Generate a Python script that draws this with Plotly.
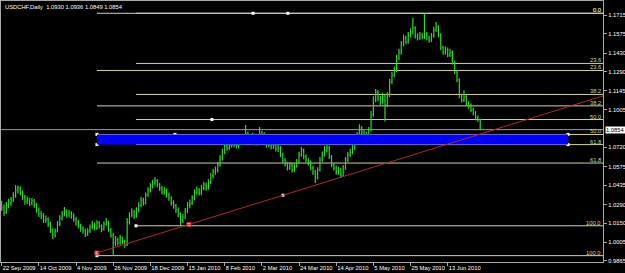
import plotly.graph_objects as go

# ---------------- data ----------------
SYMBOL_TITLE = "USDCHF,Daily\u00a0\u00a01.0930 1.0936 1.0849 1.0854"

OPEN = [
    1.0290, 1.0265, 1.0232, 1.0285, 1.0300, 1.0325, 1.0355, 1.0398, 1.0415, 1.0378, 1.0346, 1.0310, 1.0322, 1.0302, 1.0318, 1.0287,
    1.0250, 1.0219, 1.0204, 1.0173, 1.0181, 1.0143, 1.0098, 1.0060, 1.0091, 1.0143, 1.0188, 1.0219, 1.0241, 1.0211, 1.0226, 1.0204,
    1.0181, 1.0158, 1.0128, 1.0106, 1.0091, 1.0068, 1.0091, 1.0121, 1.0143, 1.0113, 1.0151, 1.0128, 1.0106, 1.0143, 1.0158, 1.0098,
    1.0060, 1.0000, 1.0023, 1.0000, 1.0038, 1.0008, 0.9985, 1.0158, 1.0211, 1.0234, 1.0204, 1.0249, 1.0286, 1.0324, 1.0301, 1.0362,
    1.0399, 1.0429, 1.0452, 1.0467, 1.0437, 1.0414, 1.0384, 1.0399, 1.0362, 1.0339, 1.0301, 1.0279, 1.0249, 1.0219, 1.0173, 1.0196,
    1.0241, 1.0286, 1.0301, 1.0339, 1.0384, 1.0399, 1.0377, 1.0414, 1.0437, 1.0414, 1.0460, 1.0505, 1.0535, 1.0550, 1.0588, 1.0640,
    1.0685, 1.0731, 1.0716, 1.0761, 1.0738, 1.0768, 1.0731, 1.0753, 1.0783, 1.0761, 1.0821, 1.0791, 1.0776, 1.0806, 1.0753, 1.0776,
    1.0821, 1.0776, 1.0798, 1.0738, 1.0753, 1.0723, 1.0738, 1.0708, 1.0716, 1.0663, 1.0625, 1.0595, 1.0565, 1.0588, 1.0550, 1.0580,
    1.0610, 1.0663, 1.0700, 1.0648, 1.0625, 1.0603, 1.0565, 1.0535, 1.0490, 1.0550, 1.0625, 1.0663, 1.0700, 1.0716, 1.0648, 1.0588,
    1.0565, 1.0535, 1.0550, 1.0512, 1.0565, 1.0625, 1.0663, 1.0685, 1.0716, 1.0776, 1.0813, 1.0866, 1.0836, 1.0791, 1.0813, 1.0851,
    1.0964, 1.1077, 1.1137, 1.1092, 1.1062, 1.1107, 1.1039, 1.1115, 1.1213, 1.1265, 1.1303, 1.1393, 1.1438, 1.1499, 1.1544, 1.1514,
    1.1566, 1.1589, 1.1619, 1.1559, 1.1544, 1.1566, 1.1551, 1.1574, 1.1544, 1.1529, 1.1559, 1.1604, 1.1627, 1.1566, 1.1469, 1.1438,
    1.1454, 1.1416, 1.1438, 1.1363, 1.1288, 1.1228, 1.1107, 1.1077, 1.1100, 1.1047, 1.1032, 1.1002, 1.0979, 1.0941, 1.0930,
]
HIGH = [
    1.0318, 1.0290, 1.0309, 1.0334, 1.0347, 1.0382, 1.0437, 1.0431, 1.0428, 1.0395, 1.0362, 1.0351, 1.0340, 1.0339, 1.0331, 1.0301,
    1.0268, 1.0243, 1.0226, 1.0207, 1.0195, 1.0158, 1.0112, 1.0110, 1.0166, 1.0209, 1.0242, 1.0271, 1.0255, 1.0249, 1.0240, 1.0225,
    1.0197, 1.0174, 1.0146, 1.0125, 1.0108, 1.0112, 1.0140, 1.0168, 1.0155, 1.0172, 1.0166, 1.0140, 1.0163, 1.0188, 1.0170, 1.0113,
    1.0078, 1.0052, 1.0041, 1.0060, 1.0049, 1.0025, 1.0188, 1.0232, 1.0262, 1.0251, 1.0270, 1.0307, 1.0349, 1.0341, 1.0381, 1.0420,
    1.0451, 1.0476, 1.0497, 1.0483, 1.0452, 1.0430, 1.0421, 1.0412, 1.0380, 1.0352, 1.0322, 1.0294, 1.0268, 1.0232, 1.0218, 1.0263,
    1.0309, 1.0328, 1.0360, 1.0405, 1.0428, 1.0415, 1.0437, 1.0462, 1.0455, 1.0481, 1.0528, 1.0559, 1.0576, 1.0610, 1.0663, 1.0709,
    1.0756, 1.0762, 1.0784, 1.0779, 1.0792, 1.0785, 1.0774, 1.0810, 1.0801, 1.0889, 1.0840, 1.0811, 1.0831, 1.0822, 1.0797, 1.0874,
    1.0846, 1.0834, 1.0811, 1.0779, 1.0770, 1.0762, 1.0752, 1.0737, 1.0731, 1.0680, 1.0641, 1.0612, 1.0611, 1.0603, 1.0602, 1.0633,
    1.0688, 1.0724, 1.0712, 1.0666, 1.0641, 1.0619, 1.0580, 1.0551, 1.0571, 1.0648, 1.0689, 1.0731, 1.0768, 1.0730, 1.0662, 1.0605,
    1.0583, 1.0574, 1.0566, 1.0588, 1.0647, 1.0687, 1.0709, 1.0741, 1.0800, 1.0836, 1.0895, 1.0882, 1.0850, 1.0838, 1.0874, 1.0995,
    1.1105, 1.1160, 1.1150, 1.1108, 1.1131, 1.1122, 1.1138, 1.1236, 1.1290, 1.1330, 1.1418, 1.1462, 1.1522, 1.1571, 1.1560, 1.1590,
    1.1615, 1.1694, 1.1633, 1.1578, 1.1589, 1.1584, 1.1730, 1.1590, 1.1561, 1.1582, 1.1628, 1.1664, 1.1640, 1.1580, 1.1488, 1.1480,
    1.1472, 1.1462, 1.1451, 1.1375, 1.1302, 1.1240, 1.1125, 1.1150, 1.1118, 1.1068, 1.1050, 1.1020, 1.0995, 1.0960, 1.0936,
]
LOW = [
    1.0241, 1.0205, 1.0219, 1.0262, 1.0281, 1.0309, 1.0340, 1.0372, 1.0360, 1.0322, 1.0288, 1.0293, 1.0279, 1.0285, 1.0266, 1.0228,
    1.0196, 1.0181, 1.0150, 1.0152, 1.0120, 1.0076, 1.0030, 1.0041, 1.0080, 1.0128, 1.0170, 1.0202, 1.0190, 1.0193, 1.0182, 1.0160,
    1.0131, 1.0109, 1.0084, 1.0070, 1.0045, 1.0052, 1.0075, 1.0104, 1.0095, 1.0098, 1.0109, 1.0082, 1.0094, 1.0130, 1.0085, 1.0040,
    0.9905, 0.9978, 0.9981, 0.9985, 0.9990, 0.9964, 0.9978, 1.0140, 1.0195, 1.0183, 1.0190, 1.0231, 1.0270, 1.0282, 1.0290, 1.0348,
    1.0380, 1.0410, 1.0433, 1.0420, 1.0392, 1.0366, 1.0363, 1.0341, 1.0318, 1.0280, 1.0258, 1.0226, 1.0195, 1.0130, 1.0150, 1.0180,
    1.0225, 1.0262, 1.0287, 1.0322, 1.0366, 1.0357, 1.0360, 1.0398, 1.0394, 1.0402, 1.0445, 1.0488, 1.0515, 1.0531, 1.0574, 1.0622,
    1.0668, 1.0694, 1.0701, 1.0717, 1.0722, 1.0712, 1.0711, 1.0738, 1.0744, 1.0750, 1.0772, 1.0754, 1.0760, 1.0737, 1.0735, 1.0762,
    1.0758, 1.0760, 1.0718, 1.0719, 1.0705, 1.0708, 1.0690, 1.0686, 1.0645, 1.0604, 1.0577, 1.0546, 1.0549, 1.0530, 1.0534, 1.0566,
    1.0598, 1.0650, 1.0630, 1.0606, 1.0584, 1.0548, 1.0512, 1.0452, 1.0478, 1.0538, 1.0610, 1.0651, 1.0684, 1.0632, 1.0570, 1.0544,
    1.0515, 1.0514, 1.0490, 1.0499, 1.0552, 1.0611, 1.0645, 1.0668, 1.0702, 1.0760, 1.0798, 1.0818, 1.0772, 1.0776, 1.0798, 1.0840,
    1.0950, 1.1060, 1.1070, 1.1040, 1.1045, 1.0915, 1.1025, 1.1100, 1.1196, 1.1248, 1.1288, 1.1376, 1.1420, 1.1482, 1.1495, 1.1500,
    1.1548, 1.1572, 1.1540, 1.1525, 1.1530, 1.1533, 1.1536, 1.1526, 1.1508, 1.1514, 1.1545, 1.1590, 1.1550, 1.1452, 1.1418, 1.1420,
    1.1398, 1.1400, 1.1345, 1.1270, 1.1210, 1.1090, 1.1058, 1.1062, 1.1030, 1.1012, 1.0984, 1.0960, 1.0925, 1.0912, 1.0849,
]
CLOSE = [
    1.0265, 1.0232, 1.0285, 1.0300, 1.0325, 1.0355, 1.0398, 1.0415, 1.0378, 1.0346, 1.0310, 1.0322, 1.0302, 1.0318, 1.0287, 1.0250,
    1.0219, 1.0204, 1.0173, 1.0181, 1.0143, 1.0098, 1.0060, 1.0091, 1.0143, 1.0188, 1.0219, 1.0241, 1.0211, 1.0226, 1.0204, 1.0181,
    1.0158, 1.0128, 1.0106, 1.0091, 1.0068, 1.0091, 1.0121, 1.0143, 1.0113, 1.0151, 1.0128, 1.0106, 1.0143, 1.0158, 1.0098, 1.0060,
    1.0000, 1.0023, 1.0000, 1.0038, 1.0008, 0.9985, 1.0158, 1.0211, 1.0234, 1.0204, 1.0249, 1.0286, 1.0324, 1.0301, 1.0362, 1.0399,
    1.0429, 1.0452, 1.0467, 1.0437, 1.0414, 1.0384, 1.0399, 1.0362, 1.0339, 1.0301, 1.0279, 1.0249, 1.0219, 1.0173, 1.0196, 1.0241,
    1.0286, 1.0301, 1.0339, 1.0384, 1.0399, 1.0377, 1.0414, 1.0437, 1.0414, 1.0460, 1.0505, 1.0535, 1.0550, 1.0588, 1.0640, 1.0685,
    1.0731, 1.0716, 1.0761, 1.0738, 1.0768, 1.0731, 1.0753, 1.0783, 1.0761, 1.0821, 1.0791, 1.0776, 1.0806, 1.0753, 1.0776, 1.0821,
    1.0776, 1.0798, 1.0738, 1.0753, 1.0723, 1.0738, 1.0708, 1.0716, 1.0663, 1.0625, 1.0595, 1.0565, 1.0588, 1.0550, 1.0580, 1.0610,
    1.0663, 1.0700, 1.0648, 1.0625, 1.0603, 1.0565, 1.0535, 1.0490, 1.0550, 1.0625, 1.0663, 1.0700, 1.0716, 1.0648, 1.0588, 1.0565,
    1.0535, 1.0550, 1.0512, 1.0565, 1.0625, 1.0663, 1.0685, 1.0716, 1.0776, 1.0813, 1.0866, 1.0836, 1.0791, 1.0813, 1.0851, 1.0964,
    1.1077, 1.1137, 1.1092, 1.1062, 1.1107, 1.1039, 1.1115, 1.1213, 1.1265, 1.1303, 1.1393, 1.1438, 1.1499, 1.1544, 1.1514, 1.1566,
    1.1589, 1.1619, 1.1559, 1.1544, 1.1566, 1.1551, 1.1574, 1.1544, 1.1529, 1.1559, 1.1604, 1.1627, 1.1566, 1.1469, 1.1438, 1.1454,
    1.1416, 1.1438, 1.1363, 1.1288, 1.1228, 1.1107, 1.1077, 1.1100, 1.1047, 1.1032, 1.1002, 1.0979, 1.0941, 1.0930, 1.0854,
]
BAR_INDEX = list(range(len(CLOSE)))

# date labels on the time axis (one every 16 bars)
DATE_TICK_BARS = [0, 16, 32, 48, 64, 80, 96, 112, 128, 144, 160, 176, 192]
DATE_TICK_LABELS = ["22 Sep 2009", "14 Oct 2009", "4 Nov 2009", "26 Nov 2009", "18 Dec 2009",
                    "15 Jan 2010", "8 Feb 2010", "2 Mar 2010", "24 Mar 2010", "14 Apr 2010",
                    "5 May 2010", "25 May 2010", "13 Jun 2010"]

# price scale labels
PRICE_TICKS = [1.1715, 1.1575, 1.1430, 1.1290, 1.1145, 1.1005, 1.0720, 1.0575,
               1.0435, 1.0290, 1.0150, 1.0005, 0.9865]
LAST_PRICE = 1.0854

# Fibonacci retracement objects: (start bar, 0% price, 100% price)
FIB_RATIOS = [0.0, 23.6, 38.2, 50.0, 61.8, 100.0]
FIB_LABELS = ["0.0", "23.6", "38.2", "50.0", "61.8", "100.0"]
FIB1 = dict(start=41.0, top=1.1730, bottom=0.9905)
FIB2 = dict(start=57.8, top=1.1730, bottom=1.0130)

# rectangle object
RECT = dict(x0=41.0, x1=243.8, y0=1.0741, y1=1.0818)

# trend line object anchors (ray to the right)
TREND_X = [41.0, 80.6]
TREND_Y = [0.9925, 1.0140]

# selection anchor dots
WHITE_DOT_X = [41.0, 41.0, 243.8, 243.8, 142.4, 108.2, 123.2, 57.8, 90.5, 74.6, 41.0, 121.1]
WHITE_DOT_Y = [1.0818, 1.0741, 1.0818, 1.0741, 1.0780, 1.1730, 1.1730, 1.0130, 1.0930, 1.0818, 0.9905, 1.0360]

# ---------------- layout constants ----------------
XMIN, XMAX = -0.3, 258.85
YMIN, YMAX = 0.98571, 1.18225
FONT = "Liberation Sans, Arial, sans-serif"
FS = 5.8
FIB_COLOR = "#d2d2a0"
FRAME = "#a8a8a8"
BAR_COLOR = "#36d436"

fig = go.Figure()
fig.add_trace(go.Ohlc(
    x=BAR_INDEX, open=OPEN, high=HIGH, low=LOW, close=CLOSE,
    increasing=dict(line=dict(color=BAR_COLOR, width=1.2)),
    decreasing=dict(line=dict(color=BAR_COLOR, width=1.2)),
    tickwidth=0.35, hoverinfo="skip", showlegend=False,
))

shapes = []
annotations = []

# current price line
shapes.append(dict(type="line", xref="paper", x0=0, x1=1, yref="y", y0=LAST_PRICE, y1=LAST_PRICE,
                   line=dict(color="#9a9a9a", width=1), layer="below"))

# fibonacci levels
for fib in (FIB1, FIB2):
    for r, lab in zip(FIB_RATIOS, FIB_LABELS):
        lvl = fib["top"] - r / 100.0 * (fib["top"] - fib["bottom"])
        shapes.append(dict(type="line", xref="x", x0=fib["start"], x1=XMAX, yref="y", y0=lvl, y1=lvl,
                           line=dict(color=FIB_COLOR, width=1), layer="below"))
        annotations.append(dict(xref="paper", x=1, xanchor="right", xshift=-1, yref="y", y=lvl,
                                yanchor="bottom", yshift=-1, text=lab, showarrow=False,
                                font=dict(family=FONT, size=FS, color=FIB_COLOR), borderpad=0))

# rectangle
shapes.append(dict(type="rect", xref="x", yref="y", x0=RECT["x0"], x1=RECT["x1"], y0=RECT["y0"], y1=RECT["y1"],
                   fillcolor="#0000ff", line=dict(width=0), layer="above"))

# trend line (ray)
slope = (TREND_Y[1] - TREND_Y[0]) / (TREND_X[1] - TREND_X[0])
shapes.append(dict(type="line", xref="x", yref="y", x0=TREND_X[0], y0=TREND_Y[0],
                   x1=XMAX, y1=TREND_Y[0] + slope * (XMAX - TREND_X[0]),
                   line=dict(color="#b02a2a", width=1), layer="above"))

fig.add_trace(go.Scatter(x=WHITE_DOT_X, y=WHITE_DOT_Y, mode="markers",
                         marker=dict(symbol="square", size=3, color="white"),
                         hoverinfo="skip", showlegend=False))
fig.add_trace(go.Scatter(x=TREND_X, y=TREND_Y, mode="markers",
                         marker=dict(symbol="square", size=4, color="#f0a0a0",
                                     line=dict(color="#c03030", width=1)),
                         hoverinfo="skip", showlegend=False))

# title text
annotations.append(dict(xref="paper", x=0, xanchor="left", xshift=2, yref="paper", y=1, yanchor="top",
                        yshift=-1, text=SYMBOL_TITLE, showarrow=False,
                        font=dict(family=FONT, size=FS, color="white")))
# current price box
annotations.append(dict(xref="paper", x=1, xanchor="left", xshift=2, yref="y", y=LAST_PRICE,
                        yanchor="middle", text=f"{LAST_PRICE:.4f}", showarrow=False, bgcolor="white",
                        borderpad=0, font=dict(family=FONT, size=FS, color="black")))

fig.update_layout(
    width=625, height=273,
    margin=dict(l=1, r=22, t=1, b=11, autoexpand=False),
    paper_bgcolor="black", plot_bgcolor="black",
    font=dict(family=FONT, size=FS, color="white"),
    shapes=shapes, annotations=annotations,
    showlegend=False,
    xaxis=dict(range=[XMIN, XMAX], showgrid=False, zeroline=False,
               showline=True, linecolor=FRAME, linewidth=1, mirror=True,
               ticks="outside", ticklen=3, tickcolor=FRAME, tickwidth=1,
               tickvals=DATE_TICK_BARS, ticktext=DATE_TICK_LABELS, tickangle=0,
               ticklabelposition="outside right", automargin=False,
               tickfont=dict(family=FONT, size=FS, color="white"),
               rangeslider=dict(visible=False), fixedrange=True),
    yaxis=dict(range=[YMIN, YMAX], side="right", showgrid=False, zeroline=False,
               showline=True, linecolor=FRAME, linewidth=1, mirror=True,
               ticks="outside", ticklen=3, tickcolor=FRAME, tickwidth=1,
               tickvals=PRICE_TICKS, ticktext=[f"{v:.4f}" for v in PRICE_TICKS],
               automargin=False,
               tickfont=dict(family=FONT, size=FS, color="white"), fixedrange=True),
)

fig.write_html("out.html", config={"displayModeBar": False})
